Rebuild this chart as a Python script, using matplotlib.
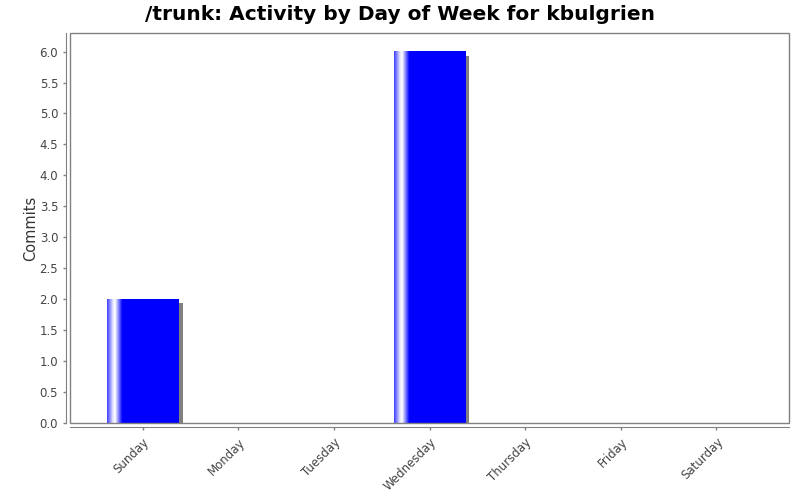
import numpy as np
import matplotlib
matplotlib.use("Agg")
import matplotlib.pyplot as plt
from matplotlib.patches import Rectangle
from matplotlib.colors import LinearSegmentedColormap

days = ["Sunday", "Monday", "Tuesday", "Wednesday", "Thursday", "Friday", "Saturday"]
commits = [2, 0, 0, 6, 0, 0, 0]
y_ticks = [0.0, 0.5, 1.0, 1.5, 2.0, 2.5, 3.0, 3.5, 4.0, 4.5, 5.0, 5.5, 6.0]

fig = plt.figure(figsize=(8, 5), dpi=100)
ax = fig.add_axes([70 / 800, 77 / 500, 719 / 800, 390 / 500])

x = np.arange(len(days))
width = 0.75
ax.set_xlim(-0.76, 6.76)
ax.set_ylim(0, 6.3)

# pixel -> data offsets for the shadow
px_x = (6.76 + 0.76) / 719
px_y = 6.3 / 390

# gradient like the jfreechart bar painter
grad = LinearSegmentedColormap.from_list(
    "bar", [(0.0, (0.25, 0.25, 1.0)), (0.08, (0.9, 0.9, 1)), (0.11, (1, 1, 1)),
            (0.21, (0, 0, 1)), (1.0, (0, 0, 1))])
row = grad(np.linspace(0, 1, 200))[np.newaxis, :, :]

for xi, v in zip(x, commits):
    if v <= 0:
        continue
    ax.add_patch(Rectangle((xi - width / 2 + 4 * px_x, 0), width, v - 4 * px_y,
                           facecolor="#808080", edgecolor="none", zorder=1))
    ax.imshow(row, extent=(xi - width / 2, xi + width / 2, 0, v), aspect="auto",
              interpolation="bilinear", zorder=2)

ax.set_xlim(-0.76, 6.76)
ax.set_ylim(0, 6.3)

# plot border
ax.add_patch(Rectangle((0, 0), 1, 1, transform=ax.transAxes, fill=False,
                       edgecolor="#808080", linewidth=1, zorder=5, clip_on=False))
for s in ["top", "right"]:
    ax.spines[s].set_visible(False)
for s in ["left", "bottom"]:
    ax.spines[s].set_position(("outward", 3))
    ax.spines[s].set_color("#808080")

ax.set_xticks(x)
ax.set_xticklabels(days, rotation=45, ha="right", rotation_mode="anchor")
ax.set_yticks(y_ticks)
ax.set_yticklabels([f"{t:.1f}" for t in y_ticks])
ax.tick_params(axis="both", colors="#808080", labelcolor="#444444", labelsize=8.5,
               length=2, width=1)
ax.tick_params(axis="x", pad=4)

ax.set_ylabel("Commits", fontsize=10.5, color="#333333", labelpad=1)
fig.suptitle("/trunk: Activity by Day of Week for kbulgrien", fontsize=14.5,
             fontweight="bold", y=0.99, va="top")

fig.savefig("out.png", dpi=100)
